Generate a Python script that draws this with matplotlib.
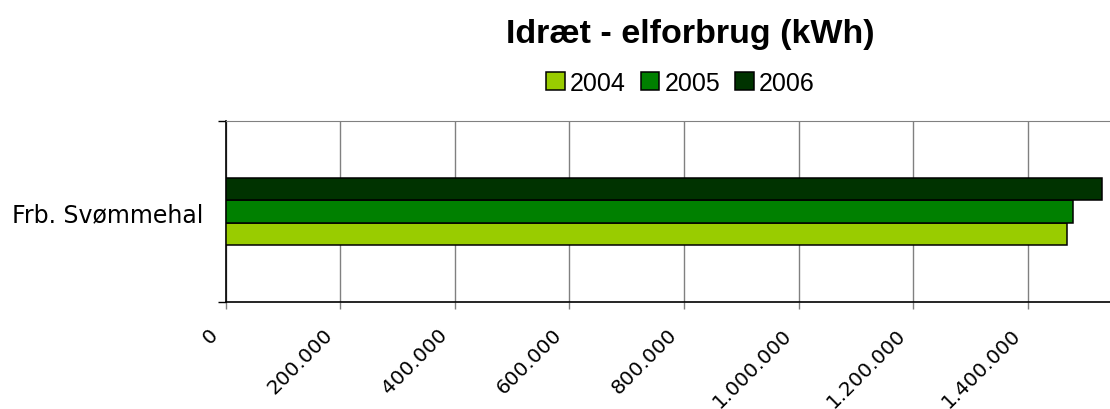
import matplotlib
matplotlib.use("Agg")
import matplotlib.pyplot as plt
from matplotlib.ticker import FuncFormatter
from matplotlib.transforms import ScaledTranslation

# data
category = "Frb. Svømmehal"
years = ["2004", "2005", "2006"]
values = [1468000, 1478000, 1530000]
colors = ["#99CC00", "#008000", "#003300"]
x_ticks = [0, 200000, 400000, 600000, 800000, 1000000, 1200000, 1400000]

fig = plt.figure(figsize=(11.1, 4.1), dpi=100)
# plot area runs past the right edge of the picture, as in the reference
ax = fig.add_axes([0.2032, 0.261, 0.826, 0.4414])

bar_h = 0.124
offsets = [-1, 0, 1]
for yr, v, c, off in zip(years, values, colors, offsets):
    ax.barh(0.5 + off * bar_h, v, height=bar_h, color=c, edgecolor="black",
            linewidth=1.1, label=yr, zorder=3)

ax.set_xlim(0, 1600000)
ax.set_ylim(0, 1)
ax.set_xticks(x_ticks)

def dk_fmt(x, pos):
    return f"{int(x):,}".replace(",", ".")

ax.xaxis.set_major_formatter(FuncFormatter(dk_fmt))
ax.grid(axis="x", color="#808080", linewidth=1.0, zorder=0)

ax.set_yticks([0, 1])
ax.set_yticklabels([])
ax.set_yticks([0.5], minor=True)
ax.set_yticklabels([category], minor=True, fontsize=17, family="DejaVu Sans")
ax.tick_params(axis="y", which="major", direction="out", length=6, width=1, color="black")
ax.tick_params(axis="y", which="minor", length=0, pad=16)
ax.tick_params(axis="x", direction="out", length=5, width=1, color="#808080", pad=4)

# shift the slanted labels down-left like the original
shift = ScaledTranslation(-17 / 100, -10 / 100, fig.dpi_scale_trans)
for lab in ax.get_xticklabels():
    lab.set_rotation(45)
    lab.set_rotation_mode("anchor")
    lab.set_ha("right")
    lab.set_va("top")
    lab.set_fontsize(14.5)
    lab.set_family("DejaVu Sans")
    lab.set_transform(lab.get_transform() + shift)

ax.spines["top"].set_color("#808080")
ax.spines["right"].set_visible(False)
ax.spines["left"].set_color("black")
ax.spines["bottom"].set_color("black")
ax.spines["left"].set_linewidth(1.2)
ax.spines["bottom"].set_linewidth(1.2)

fig.text(0.622, 0.895, "Idræt - elforbrug (kWh)", ha="center", va="baseline",
         fontsize=24.5, fontweight="bold", family="Liberation Sans")

leg = fig.legend(loc="center", bbox_to_anchor=(0.613, 0.795), ncol=3, frameon=False,
                 prop={"family": "Liberation Sans", "size": 18},
                 handlelength=0.75, handleheight=0.75, handletextpad=0.2,
                 columnspacing=0.6, borderpad=0)

fig.savefig("out.png", dpi=100)
